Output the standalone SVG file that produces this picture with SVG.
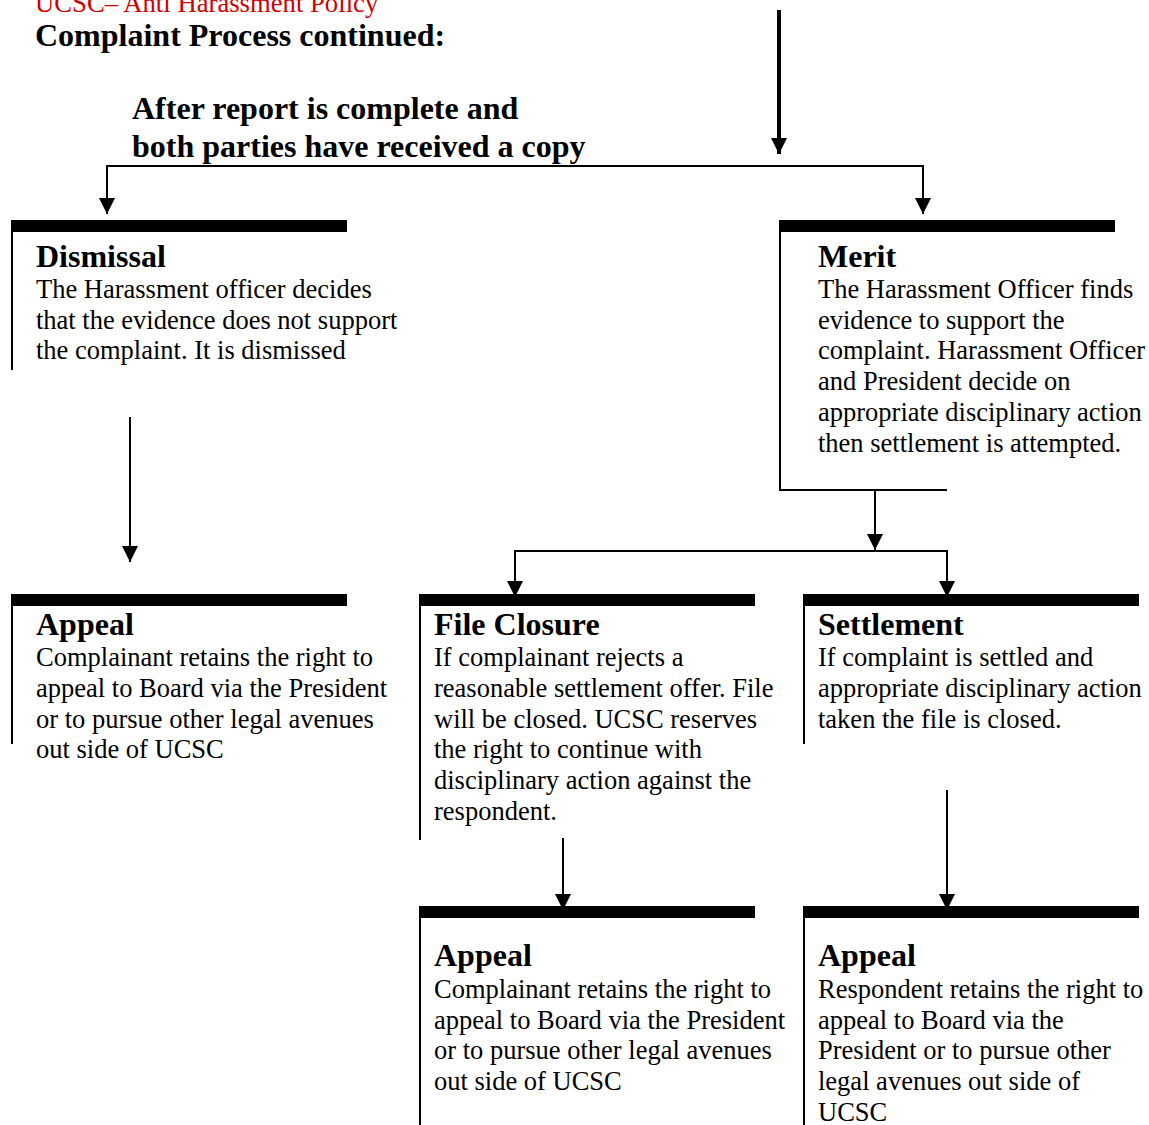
<svg xmlns="http://www.w3.org/2000/svg" width="1149" height="1125" viewBox="0 0 1149 1125">
<defs>
<marker id="ah" markerUnits="userSpaceOnUse" markerWidth="16" markerHeight="18" refX="16" refY="8" orient="auto">
<path d="M0,0 L16,8 L0,16 Z" fill="#000"/>
</marker>
<style>
.t{font-family:"Liberation Serif","Times New Roman",serif;fill:#000}
.h{font-size:32px;font-weight:bold}
.b{font-size:26.5px}
.bar{fill:#000}
.side{stroke:#000;stroke-width:2;fill:none}
.c{stroke:#000;stroke-width:2;fill:none}
</style>
</defs>
<rect width="1149" height="1125" fill="#fff"/>
<text class="t" x="35" y="12" font-size="26.7" style="fill:#d00000">UCSC– Anti Harassment Policy</text>
<text class="t h" x="35" y="46">Complaint Process continued:</text>
<text class="t h" x="132" y="119">After report is complete and</text>
<text class="t h" x="132" y="157">both parties have received a copy</text>

<g id="connectors">
<line x1="779" y1="10" x2="779" y2="154" stroke="#000" stroke-width="4" marker-end="url(#ah)"/>
<polyline class="c" points="107,214 107,166 923,166 923,214"/>
<line class="c" x1="107" y1="166" x2="107" y2="214" marker-end="url(#ah)"/>
<line class="c" x1="923" y1="166" x2="923" y2="214" marker-end="url(#ah)"/>
<line class="c" x1="130" y1="417" x2="130" y2="562" marker-end="url(#ah)"/>
<line class="c" x1="875" y1="490" x2="875" y2="550" marker-end="url(#ah)"/>
<polyline class="c" points="515,597 515,551 947,551 947,597"/>
<line class="c" x1="515" y1="551" x2="515" y2="597" marker-end="url(#ah)"/>
<line class="c" x1="947" y1="551" x2="947" y2="597" marker-end="url(#ah)"/>
<line class="c" x1="563" y1="838" x2="563" y2="910" marker-end="url(#ah)"/>
<line class="c" x1="947" y1="790" x2="947" y2="910" marker-end="url(#ah)"/>
</g>

<g id="dismissal">
<rect class="bar" x="11" y="220" width="336" height="12"/>
<line class="side" x1="12" y1="220" x2="12" y2="370"/>
<text class="t h" x="36" y="267">Dismissal</text>
<text class="t b" x="36" y="298">The Harassment officer decides</text>
<text class="t b" x="36" y="329">that the evidence does not support</text>
<text class="t b" x="36" y="359">the complaint. It is dismissed</text>
</g>

<g id="merit">
<rect class="bar" x="779" y="220" width="336" height="12"/>
<polyline class="side" points="780,220 780,490 947,490"/>
<text class="t h" x="818" y="267">Merit</text>
<text class="t b" x="818" y="298">The Harassment Officer finds</text>
<text class="t b" x="818" y="329">evidence to support the</text>
<text class="t b" x="818" y="359">complaint. Harassment Officer</text>
<text class="t b" x="818" y="390">and President decide on</text>
<text class="t b" x="818" y="421">appropriate disciplinary action</text>
<text class="t b" x="818" y="452">then settlement is attempted.</text>
</g>

<g id="appeal1">
<rect class="bar" x="11" y="594" width="336" height="12"/>
<line class="side" x1="12" y1="594" x2="12" y2="744"/>
<text class="t h" x="36" y="635">Appeal</text>
<text class="t b" x="36" y="666">Complainant retains the right to</text>
<text class="t b" x="36" y="697">appeal to Board via the President</text>
<text class="t b" x="36" y="728">or to pursue other legal avenues</text>
<text class="t b" x="36" y="758">out side of UCSC</text>
</g>

<g id="fileclosure">
<rect class="bar" x="419" y="594" width="336" height="12"/>
<line class="side" x1="420" y1="594" x2="420" y2="840"/>
<text class="t h" x="434" y="635">File Closure</text>
<text class="t b" x="434" y="666">If complainant rejects a</text>
<text class="t b" x="434" y="697">reasonable settlement offer. File</text>
<text class="t b" x="434" y="728">will be closed. UCSC reserves</text>
<text class="t b" x="434" y="758">the right to continue with</text>
<text class="t b" x="434" y="789">disciplinary action against the</text>
<text class="t b" x="434" y="820">respondent.</text>
</g>

<g id="settlement">
<rect class="bar" x="803" y="594" width="336" height="12"/>
<line class="side" x1="804" y1="594" x2="804" y2="744"/>
<text class="t h" x="818" y="635">Settlement</text>
<text class="t b" x="818" y="666">If complaint is settled and</text>
<text class="t b" x="818" y="697">appropriate disciplinary action</text>
<text class="t b" x="818" y="728">taken the file is closed.</text>
</g>

<g id="appeal2">
<rect class="bar" x="419" y="906" width="336" height="12"/>
<line class="side" x1="420" y1="906" x2="420" y2="1125"/>
<text class="t h" x="434" y="966">Appeal</text>
<text class="t b" x="434" y="998">Complainant retains the right to</text>
<text class="t b" x="434" y="1029">appeal to Board via the President</text>
<text class="t b" x="434" y="1059">or to pursue other legal avenues</text>
<text class="t b" x="434" y="1090">out side of UCSC</text>
</g>

<g id="appeal3">
<rect class="bar" x="803" y="906" width="336" height="12"/>
<line class="side" x1="804" y1="906" x2="804" y2="1125"/>
<text class="t h" x="818" y="966">Appeal</text>
<text class="t b" x="818" y="998">Respondent retains the right to</text>
<text class="t b" x="818" y="1029">appeal to Board via the</text>
<text class="t b" x="818" y="1059">President or to pursue other</text>
<text class="t b" x="818" y="1090">legal avenues out side of</text>
<text class="t b" x="818" y="1121">UCSC</text>
</g>
</svg>
